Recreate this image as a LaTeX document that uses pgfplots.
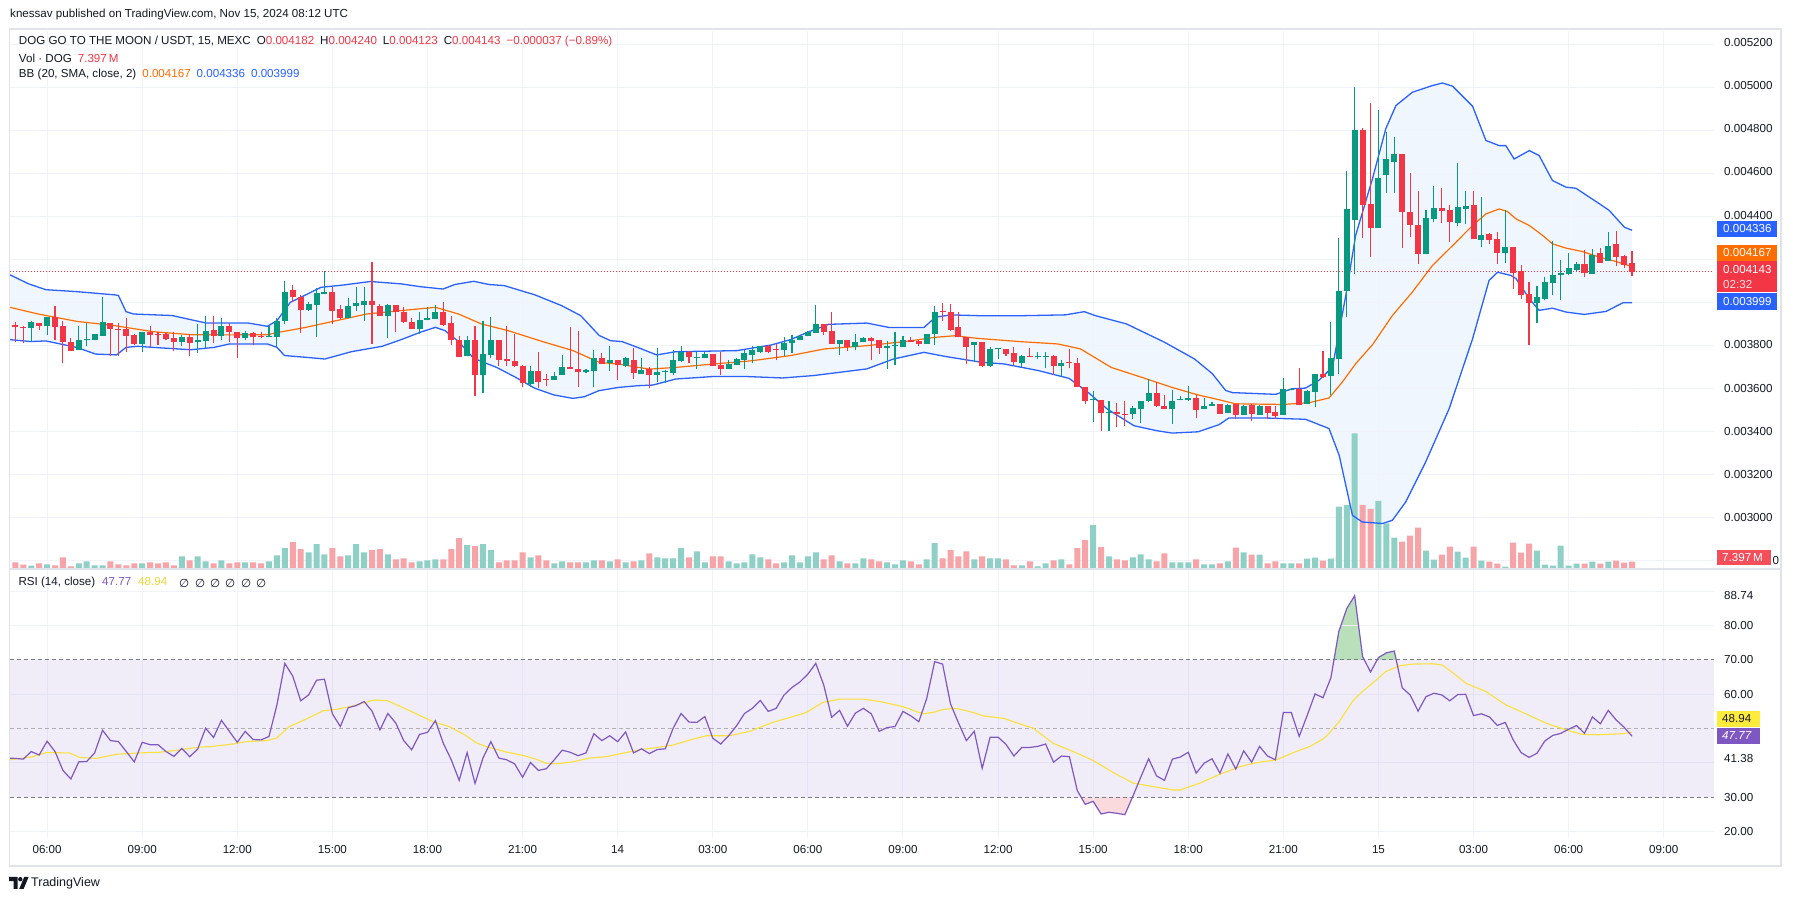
\documentclass[border=0pt]{standalone}
\usepackage{fontspec}
\setmainfont{Liberation Sans}
\newfontfamily\symfont{DejaVu Sans}
\usepackage{pgfplots}
\usepackage{pgfplotstable}
\pgfplotsset{compat=1.18}

\definecolor{cgreen}{HTML}{089981}
\definecolor{cred}{HTML}{F23645}
\definecolor{vgreen}{HTML}{8ED0C6}
\definecolor{vred}{HTML}{F7A4A8}
\definecolor{bbblue}{HTML}{2962FF}
\definecolor{bborange}{HTML}{FF6D00}
\definecolor{bbfill}{HTML}{F0F6FD}
\definecolor{gridc}{HTML}{F0F3FA}
\definecolor{framec}{HTML}{E0E3EB}
\definecolor{txt}{HTML}{131722}
\definecolor{rsipurple}{HTML}{7E57C2}
\definecolor{rsiyellow}{HTML}{F9E13A}
\definecolor{dashc}{HTML}{787B86}
\definecolor{obgreen}{HTML}{B9DFBB}
\definecolor{osred}{HTML}{FADADD}
\definecolor{labyellow}{HTML}{FFEB3B}

\newcommand{\tv}{\fontsize{11.6}{13.5}\selectfont}

% 15 min candles, t in hours from Nov 13 00:00, volume in M
\pgfplotstableread{
t o h l c v
5.00 0.003896 0.003908 0.003815 0.003887 6.7
5.25 0.003885 0.003893 0.003812 0.003881 4.4
5.50 0.003881 0.003916 0.003819 0.003908 3.3
5.75 0.003904 0.003904 0.003873 0.003893 5.7
6.00 0.003891 0.003935 0.003850 0.003932 4.7
6.25 0.003932 0.003986 0.003828 0.003885 3.7
6.50 0.003890 0.003916 0.003719 0.003819 11.7
6.75 0.003819 0.003834 0.003774 0.003777 2.7
7.00 0.003780 0.003890 0.003780 0.003828 5.7
7.25 0.003826 0.003905 0.003797 0.003831 7.7
7.50 0.003826 0.003853 0.003826 0.003853 3.7
7.75 0.003846 0.004025 0.003846 0.003912 3.7
8.00 0.003907 0.003907 0.003754 0.003877 7.7
8.25 0.003879 0.003904 0.003754 0.003873 4.7
8.50 0.003876 0.003930 0.003769 0.003845 3.7
8.75 0.003848 0.003854 0.003803 0.003808 5.7
9.00 0.003808 0.003865 0.003772 0.003862 5.7
9.25 0.003862 0.003890 0.003795 0.003850 6.7
9.50 0.003854 0.003862 0.003803 0.003850 5.7
9.75 0.003853 0.003859 0.003828 0.003831 6.7
10.00 0.003834 0.003862 0.003775 0.003819 3.7
10.25 0.003819 0.003850 0.003797 0.003839 12.7
10.50 0.003842 0.003854 0.003754 0.003812 8.7
10.75 0.003816 0.003899 0.003764 0.003828 12.7
11.00 0.003820 0.003940 0.003788 0.003870 7.7
11.25 0.003873 0.003940 0.003812 0.003843 5.7
11.50 0.003843 0.003927 0.003828 0.003890 8.7
11.75 0.003890 0.003904 0.003819 0.003862 5.7
12.00 0.003865 0.003865 0.003741 0.003834 6.7
12.25 0.003834 0.003870 0.003828 0.003861 6.7
12.50 0.003861 0.003865 0.003803 0.003842 6.7
12.75 0.003847 0.003865 0.003837 0.003842 5.7
13.00 0.003843 0.003890 0.003839 0.003847 7.7
13.25 0.003842 0.003929 0.003792 0.003916 13.7
13.50 0.003916 0.004099 0.003901 0.004051 20.8
13.75 0.004057 0.004082 0.004001 0.004025 26.8
14.00 0.004028 0.004036 0.003859 0.003966 19.8
14.25 0.003966 0.004005 0.003961 0.003994 16.7
14.50 0.003989 0.004067 0.003842 0.004043 24.8
14.75 0.004040 0.004146 0.004040 0.004048 14.7
15.00 0.004051 0.004074 0.003901 0.003961 20.8
15.25 0.003969 0.003989 0.003924 0.003927 12.7
15.50 0.003927 0.004020 0.003927 0.003986 13.7
15.75 0.003984 0.004071 0.003963 0.003997 24.8
16.00 0.003991 0.004071 0.003916 0.004009 16.7
16.25 0.004009 0.004188 0.003808 0.003989 18.8
16.50 0.003986 0.003994 0.003938 0.003938 19.8
16.75 0.003940 0.003994 0.003837 0.003988 14.7
17.00 0.003991 0.003991 0.003862 0.003955 9.7
17.25 0.003955 0.003978 0.003905 0.003909 10.7
17.50 0.003909 0.003927 0.003878 0.003878 6.7
17.75 0.003878 0.003958 0.003854 0.003921 7.7
18.00 0.003919 0.003978 0.003919 0.003927 8.7
18.25 0.003924 0.003991 0.003924 0.003958 9.7
18.50 0.003955 0.004005 0.003893 0.003896 9.7
18.75 0.003904 0.003940 0.003803 0.003828 19.8
19.00 0.003828 0.003847 0.003749 0.003749 30.8
19.25 0.003750 0.003847 0.003750 0.003828 23.8
19.50 0.003828 0.003890 0.003564 0.003664 22.8
19.75 0.003664 0.003916 0.003580 0.003761 24.8
20.00 0.003757 0.003932 0.003741 0.003826 18.8
20.25 0.003826 0.003828 0.003707 0.003733 6.7
20.50 0.003737 0.003893 0.003706 0.003729 8.7
20.75 0.003730 0.003854 0.003699 0.003704 8.7
21.00 0.003707 0.003710 0.003606 0.003626 16.7
21.25 0.003622 0.003707 0.003609 0.003681 11.7
21.50 0.003681 0.003769 0.003602 0.003633 13.7
21.75 0.003646 0.003668 0.003611 0.003642 8.7
22.00 0.003642 0.003679 0.003642 0.003661 5.7
22.25 0.003664 0.003757 0.003664 0.003702 7.7
22.50 0.003702 0.003885 0.003692 0.003692 6.7
22.75 0.003692 0.003870 0.003606 0.003679 6.7
23.00 0.003676 0.003692 0.003671 0.003687 6.7
23.25 0.003684 0.003781 0.003606 0.003744 8.7
23.50 0.003744 0.003766 0.003715 0.003715 8.7
23.75 0.003719 0.003800 0.003684 0.003733 7.7
24.00 0.003733 0.003735 0.003640 0.003710 9.7
24.25 0.003707 0.003746 0.003699 0.003741 6.7
24.50 0.003735 0.003788 0.003645 0.003673 7.7
24.75 0.003668 0.003741 0.003668 0.003687 8.7
25.00 0.003692 0.003699 0.003603 0.003664 15.7
25.25 0.003664 0.003788 0.003633 0.003676 11.7
25.50 0.003680 0.003687 0.003625 0.003684 10.7
25.75 0.003673 0.003780 0.003664 0.003733 10.7
26.00 0.003730 0.003800 0.003726 0.003769 20.8
26.25 0.003769 0.003777 0.003719 0.003749 11.7
26.50 0.003742 0.003769 0.003692 0.003746 17.7
26.75 0.003743 0.003769 0.003741 0.003760 6.7
27.00 0.003760 0.003763 0.003704 0.003704 12.7
27.25 0.003710 0.003769 0.003664 0.003692 12.7
27.50 0.003692 0.003735 0.003692 0.003715 7.7
27.75 0.003710 0.003744 0.003710 0.003738 5.7
28.00 0.003733 0.003781 0.003692 0.003766 6.7
28.25 0.003758 0.003800 0.003718 0.003780 14.7
28.50 0.003769 0.003800 0.003764 0.003797 11.7
28.75 0.003797 0.003803 0.003764 0.003769 9.7
29.00 0.003785 0.003808 0.003733 0.003781 5.7
29.25 0.003780 0.003839 0.003754 0.003811 6.7
29.50 0.003811 0.003851 0.003764 0.003828 13.7
29.75 0.003828 0.003843 0.003828 0.003843 6.7
30.00 0.003843 0.003868 0.003843 0.003865 12.7
30.25 0.003859 0.003989 0.003857 0.003899 16.7
30.50 0.003899 0.003902 0.003850 0.003862 9.7
30.75 0.003867 0.003955 0.003808 0.003808 13.7
31.00 0.003808 0.003828 0.003757 0.003825 7.7
31.25 0.003825 0.003828 0.003777 0.003792 5.7
31.50 0.003792 0.003854 0.003780 0.003816 5.7
31.75 0.003816 0.003839 0.003816 0.003834 10.7
32.00 0.003837 0.003839 0.003733 0.003820 9.7
32.25 0.003825 0.003825 0.003761 0.003791 7.7
32.50 0.003791 0.003823 0.003692 0.003797 6.7
32.75 0.003798 0.003862 0.003712 0.003802 4.7
33.00 0.003794 0.003847 0.003794 0.003828 8.7
33.25 0.003825 0.003839 0.003816 0.003819 7.7
33.50 0.003823 0.003828 0.003800 0.003808 4.7
33.75 0.003808 0.003854 0.003808 0.003853 9.7
34.00 0.003853 0.003983 0.003803 0.003958 25.8
34.25 0.003961 0.003998 0.003916 0.003957 10.7
34.50 0.003955 0.003994 0.003870 0.003874 18.8
34.75 0.003885 0.003955 0.003839 0.003839 12.7
35.00 0.003842 0.003842 0.003715 0.003792 17.7
35.25 0.003803 0.003819 0.003722 0.003819 9.7
35.50 0.003816 0.003816 0.003699 0.003704 12.7
35.75 0.003707 0.003792 0.003699 0.003785 10.7
36.00 0.003784 0.003789 0.003738 0.003788 10.7
36.25 0.003785 0.003785 0.003754 0.003761 9.7
36.50 0.003764 0.003795 0.003710 0.003722 3.7
36.75 0.003718 0.003758 0.003699 0.003750 3.7
37.00 0.003751 0.003789 0.003747 0.003747 7.7
37.25 0.003746 0.003769 0.003738 0.003750 2.7
37.50 0.003750 0.003769 0.003696 0.003754 5.7
37.75 0.003754 0.003758 0.003664 0.003707 8.7
38.00 0.003707 0.003735 0.003656 0.003718 9.7
38.25 0.003723 0.003785 0.003695 0.003719 4.7
38.50 0.003718 0.003741 0.003606 0.003606 20.8
38.75 0.003609 0.003609 0.003529 0.003544 28.8
39.00 0.003548 0.003591 0.003447 0.003552 43.9
39.25 0.003549 0.003549 0.003402 0.003487 21.8
39.50 0.003486 0.003544 0.003402 0.003490 12.7
39.75 0.003490 0.003536 0.003420 0.003482 9.7
40.00 0.003484 0.003541 0.003428 0.003479 8.7
40.25 0.003482 0.003521 0.003459 0.003509 11.7
40.50 0.003505 0.003544 0.003440 0.003541 14.7
40.75 0.003541 0.003645 0.003538 0.003578 9.7
41.00 0.003578 0.003629 0.003515 0.003518 7.7
41.25 0.003521 0.003571 0.003505 0.003505 15.7
41.50 0.003505 0.003595 0.003436 0.003544 6.7
41.75 0.003548 0.003567 0.003546 0.003552 6.7
42.00 0.003547 0.003611 0.003544 0.003558 6.7
42.25 0.003558 0.003571 0.003462 0.003502 9.7
42.50 0.003504 0.003557 0.003504 0.003520 4.7
42.75 0.003520 0.003538 0.003520 0.003529 4.7
43.00 0.003529 0.003529 0.003484 0.003484 5.7
43.25 0.003489 0.003529 0.003489 0.003526 7.7
43.50 0.003529 0.003529 0.003458 0.003480 21.3
43.75 0.003476 0.003523 0.003476 0.003520 16.7
44.00 0.003526 0.003531 0.003452 0.003484 14.3
44.25 0.003480 0.003523 0.003480 0.003520 14.3
44.50 0.003520 0.003520 0.003458 0.003489 5.7
44.75 0.003492 0.003520 0.003458 0.003473 7.7
45.00 0.003480 0.003650 0.003480 0.003597 5.7
45.25 0.003596 0.003603 0.003592 0.003600 5.7
45.50 0.003597 0.003696 0.003523 0.003526 5.7
45.75 0.003531 0.003592 0.003531 0.003589 10.3
46.00 0.003585 0.003670 0.003515 0.003667 11.3
46.25 0.003667 0.003775 0.003651 0.003654 8.3
46.50 0.003657 0.003909 0.003569 0.003742 10.3
46.75 0.003739 0.004299 0.003670 0.004056 62.3
47.00 0.004055 0.004610 0.003933 0.004434 64.0
47.25 0.004384 0.005000 0.004134 0.004800 135.7
47.50 0.004800 0.004810 0.004299 0.004454 64.0
47.75 0.004457 0.004926 0.004211 0.004347 60.0
48.00 0.004347 0.004896 0.004347 0.004578 68.0
48.25 0.004593 0.004791 0.004508 0.004666 45.7
48.50 0.004655 0.004768 0.004508 0.004689 31.3
48.75 0.004689 0.004689 0.004253 0.004420 27.3
49.00 0.004420 0.004601 0.004304 0.004361 33.3
49.25 0.004360 0.004517 0.004180 0.004225 41.3
49.50 0.004225 0.004428 0.004225 0.004395 18.3
49.75 0.004389 0.004541 0.004373 0.004438 9.3
50.00 0.004438 0.004531 0.004369 0.004426 14.3
50.25 0.004429 0.004451 0.004281 0.004373 22.3
50.50 0.004370 0.004647 0.004358 0.004443 17.3
50.75 0.004435 0.004517 0.004366 0.004448 11.3
51.00 0.004452 0.004517 0.004295 0.004295 22.3
51.25 0.004292 0.004490 0.004257 0.004315 8.3
51.50 0.004318 0.004322 0.004273 0.004292 7.3
51.75 0.004295 0.004330 0.004180 0.004231 5.3
52.00 0.004231 0.004431 0.004183 0.004257 2.3
52.25 0.004257 0.004257 0.004064 0.004138 26.3
52.50 0.004145 0.004176 0.004015 0.004036 16.3
52.75 0.004039 0.004098 0.003801 0.003999 25.3
53.00 0.003999 0.004076 0.003906 0.004025 18.3
53.25 0.004018 0.004118 0.004010 0.004095 4.3
53.50 0.004092 0.004284 0.004033 0.004129 3.3
53.75 0.004126 0.004200 0.004013 0.004138 23.3
54.00 0.004132 0.004231 0.004126 0.004160 3.3
54.25 0.004152 0.004188 0.004149 0.004180 5.3
54.50 0.004180 0.004242 0.004118 0.004137 5.3
54.75 0.004134 0.004247 0.004134 0.004222 7.3
55.00 0.004230 0.004253 0.004185 0.004185 5.3
55.25 0.004193 0.004327 0.004193 0.004262 7.3
55.50 0.004271 0.004332 0.004168 0.004211 8.3
55.75 0.004217 0.004222 0.004160 0.004176 6.3
56.00 0.004182 0.004240 0.004123 0.004143 7.397
}\candles

\pgfplotstableread{
t p
4.83 0.004129
5.42 0.004087
5.96 0.004060
6.93 0.004051
8.13 0.004036
8.25 0.004033
8.49 0.003958
8.73 0.003947
9.94 0.003940
11.02 0.003905
12.35 0.003905
12.95 0.003890
13.25 0.003916
13.67 0.004001
14.16 0.004036
14.64 0.004071
15.36 0.004082
16.20 0.004098
17.17 0.004087
17.77 0.004074
18.49 0.004063
18.86 0.004084
19.46 0.004099
19.94 0.004084
20.42 0.004079
21.39 0.004036
22.23 0.003986
22.83 0.003940
23.42 0.003847
23.78 0.003823
24.14 0.003819
24.75 0.003785
25.23 0.003757
25.83 0.003772
27.04 0.003775
27.76 0.003777
28.84 0.003803
29.45 0.003828
29.99 0.003862
30.65 0.003899
31.86 0.003905
32.58 0.003884
33.66 0.003884
34.02 0.003932
34.50 0.003943
35.47 0.003939
36.67 0.003939
38.12 0.003943
38.72 0.003958
39.08 0.003939
40.05 0.003901
41.25 0.003816
42.20 0.003738
42.76 0.003670
43.18 0.003592
43.39 0.003582
44.76 0.003574
45.28 0.003600
45.70 0.003603
46.12 0.003639
46.55 0.003701
46.97 0.004033
47.28 0.004312
47.81 0.004575
48.23 0.004807
48.55 0.004915
49.07 0.004977
49.70 0.005008
50.02 0.005020
50.34 0.005005
50.97 0.004912
51.39 0.004753
51.81 0.004729
52.02 0.004729
52.28 0.004667
52.76 0.004706
53.07 0.004683
53.49 0.004567
53.92 0.004536
54.23 0.004531
54.97 0.004459
55.28 0.004428
55.76 0.004350
56.00 0.004336
}\bbup

\pgfplotstableread{
t p
4.83 0.003978
5.72 0.003947
6.93 0.003913
8.13 0.003893
9.34 0.003865
10.54 0.003851
11.75 0.003850
12.95 0.003851
13.31 0.003862
14.16 0.003885
15.12 0.003916
16.08 0.003947
17.17 0.003963
18.25 0.003978
18.98 0.003947
19.70 0.003901
20.54 0.003870
21.63 0.003819
22.59 0.003777
23.41 0.003723
24.14 0.003712
24.99 0.003691
25.83 0.003699
27.04 0.003715
28.24 0.003730
29.45 0.003754
30.53 0.003785
31.86 0.003800
33.06 0.003819
34.02 0.003839
34.63 0.003846
35.35 0.003834
36.67 0.003819
37.88 0.003808
38.60 0.003785
39.57 0.003699
40.53 0.003653
41.49 0.003606
42.31 0.003571
42.97 0.003549
43.49 0.003530
44.97 0.003527
45.81 0.003535
46.44 0.003557
46.86 0.003631
47.28 0.003716
47.81 0.003804
48.44 0.003940
49.07 0.004049
49.70 0.004172
50.34 0.004265
50.97 0.004358
51.39 0.004412
51.81 0.004435
52.07 0.004423
52.34 0.004389
52.76 0.004358
53.18 0.004312
53.49 0.004273
53.92 0.004253
54.44 0.004237
54.97 0.004211
55.49 0.004191
56.00 0.004167
}\bbmid

\pgfplotstableread{
t p
4.83 0.003828
5.48 0.003819
5.96 0.003822
6.93 0.003792
7.53 0.003761
8.19 0.003757
8.49 0.003792
8.86 0.003797
9.34 0.003792
10.54 0.003781
11.27 0.003792
11.75 0.003808
12.95 0.003808
13.25 0.003792
13.49 0.003754
14.16 0.003746
14.76 0.003738
15.60 0.003772
16.57 0.003797
17.17 0.003828
17.77 0.003862
18.25 0.003885
18.55 0.003870
18.98 0.003819
19.46 0.003741
20.18 0.003699
20.78 0.003653
21.39 0.003602
21.99 0.003571
22.59 0.003555
22.95 0.003563
23.41 0.003591
24.02 0.003606
24.63 0.003614
25.11 0.003617
25.83 0.003645
27.04 0.003657
28.00 0.003657
29.20 0.003650
30.17 0.003661
31.86 0.003692
32.70 0.003738
33.66 0.003769
34.33 0.003750
35.47 0.003723
36.19 0.003715
37.28 0.003684
38.24 0.003648
38.84 0.003583
39.45 0.003505
40.29 0.003428
41.01 0.003405
41.49 0.003394
42.31 0.003400
42.97 0.003433
43.28 0.003464
44.44 0.003464
45.70 0.003458
46.44 0.003415
46.76 0.003291
47.18 0.003012
47.49 0.002981
48.13 0.002974
48.44 0.002989
48.86 0.003074
49.49 0.003260
50.23 0.003507
50.97 0.003832
51.49 0.004103
51.76 0.004141
52.18 0.004126
52.34 0.004111
52.76 0.004018
53.07 0.003964
53.49 0.003974
53.92 0.003956
54.49 0.003945
55.18 0.003959
55.71 0.003999
56.00 0.003999
}\bblo

\pgfplotstableread{
t r
4.75 41.4
5.00 41.3
5.25 41.1
5.50 43.3
5.75 42.3
6.00 46.3
6.25 43.3
6.50 37.8
6.75 35.3
7.00 40.3
7.25 40.4
7.50 42.9
7.75 49.5
8.00 46.5
8.25 46.2
8.50 43.3
8.75 40.3
9.00 46.0
9.25 45.3
9.50 45.3
9.75 43.3
10.00 41.9
10.25 44.2
10.50 41.8
10.75 44.0
11.00 50.1
11.25 47.4
11.50 52.4
11.75 49.2
12.00 46.0
12.25 49.2
12.50 46.8
12.75 46.7
13.00 47.7
13.25 56.9
13.50 69.0
13.75 65.3
14.00 58.1
14.25 59.8
14.50 64.1
14.75 64.4
15.00 54.3
15.25 50.6
15.50 56.1
15.75 56.7
16.00 57.9
16.25 55.1
16.50 49.6
16.75 54.4
17.00 51.6
17.25 46.5
17.50 43.8
17.75 48.3
18.00 48.9
18.25 52.3
18.50 45.7
18.75 40.9
19.00 34.9
19.25 43.0
19.50 34.0
19.75 41.4
20.00 46.2
20.25 41.4
20.50 40.9
20.75 39.7
21.00 35.8
21.25 40.1
21.50 37.8
21.75 38.3
22.00 40.9
22.25 43.7
22.50 43.1
22.75 42.1
23.00 42.9
23.25 48.5
23.50 46.5
23.75 47.9
24.00 46.2
24.25 49.0
24.50 42.9
24.75 44.1
25.00 42.7
25.25 43.9
25.50 44.1
25.75 50.1
26.00 54.4
26.25 51.9
26.50 51.8
26.75 53.5
27.00 47.2
27.25 45.5
27.50 47.9
27.75 50.8
28.00 54.4
28.25 55.9
28.50 58.2
28.75 55.0
29.00 55.9
29.25 59.8
29.50 62.0
29.75 63.6
30.00 65.9
30.25 69.0
30.50 62.7
30.75 53.3
31.00 55.3
31.25 50.7
31.50 54.5
31.75 55.9
32.00 54.3
32.25 49.2
32.50 50.3
32.75 50.6
33.00 55.0
33.25 53.7
33.50 52.0
33.75 58.8
34.00 69.5
34.25 68.8
34.50 57.2
34.75 51.7
35.00 46.5
35.25 49.2
35.50 38.4
35.75 47.5
36.00 47.5
36.25 45.4
36.50 42.0
36.75 44.5
37.00 44.5
37.25 44.8
37.50 45.5
37.75 40.2
38.00 42.0
38.25 41.8
38.50 31.9
38.75 27.9
39.00 28.8
39.25 25.1
39.50 25.6
39.75 25.3
40.00 24.9
40.25 30.2
40.50 35.8
40.75 41.2
41.00 36.2
41.25 34.9
41.50 41.1
41.75 41.7
42.00 43.1
42.25 37.0
42.50 39.9
42.75 41.2
43.00 37.0
43.25 42.6
43.50 38.2
43.75 43.5
44.00 40.2
44.25 44.8
44.50 42.0
44.75 40.9
45.00 54.7
45.25 54.7
45.50 47.7
45.75 53.8
46.00 60.1
46.25 59.0
46.50 64.8
46.75 78.3
47.00 85.0
47.25 88.74
47.50 71.0
47.75 66.5
48.00 70.7
48.25 72.1
48.50 72.6
48.75 61.9
49.00 59.8
49.25 55.1
49.50 59.3
49.75 60.3
50.00 59.8
50.25 58.1
50.50 59.9
50.75 60.0
51.00 53.8
51.25 54.3
51.50 53.4
51.75 50.9
52.00 51.8
52.25 46.7
52.50 43.0
52.75 41.6
53.00 42.8
53.25 46.4
53.50 48.0
53.75 48.6
54.00 49.8
54.25 50.9
54.50 48.6
54.75 53.4
55.00 51.4
55.25 55.3
55.50 52.5
55.75 50.4
56.00 47.77
}\rsi

\pgfplotstableread{
t m
4.83 40.9
5.55 41.8
5.97 43.0
6.71 42.9
7.02 41.6
7.55 41.3
8.18 42.5
8.92 42.9
9.55 43.1
10.18 43.8
10.81 44.6
11.23 44.8
11.86 45.5
12.28 46.2
12.92 46.5
13.23 47.2
13.65 50.6
14.18 52.8
14.71 55.2
15.13 55.6
15.55 56.4
15.97 57.4
16.28 58.3
16.71 58.2
17.23 56.1
17.76 53.8
18.18 52.0
18.68 50.6
19.21 48.0
19.53 45.9
19.84 44.8
20.47 43.2
21.00 42.2
21.42 41.1
21.74 39.9
22.05 39.7
22.58 40.3
23.11 41.4
23.63 41.8
24.05 42.6
24.68 43.8
25.32 44.6
25.74 45.2
26.37 46.9
26.79 47.9
27.53 47.9
28.16 49.2
28.89 51.8
29.53 53.5
29.95 54.7
30.47 57.6
31.00 58.6
31.74 58.6
32.26 57.9
33.00 56.4
33.63 54.3
34.00 54.8
34.26 55.6
34.68 55.9
35.21 54.7
35.53 53.7
36.16 53.0
36.68 51.4
37.11 50.1
37.74 45.7
38.37 43.3
39.00 40.7
39.63 37.2
40.26 34.1
40.89 33.1
41.53 32.1
41.74 32.1
42.37 34.1
43.00 36.7
43.63 38.9
44.16 40.1
44.79 40.9
45.32 43.0
45.84 44.8
46.26 47.0
46.44 48.6
46.76 52.0
47.18 57.9
47.49 60.8
47.81 63.2
48.23 66.6
48.65 68.3
49.07 68.8
49.71 68.9
50.02 68.5
50.34 66.3
50.76 63.2
51.39 60.8
52.02 56.9
52.65 54.3
53.28 51.6
53.92 49.6
54.44 48.3
54.97 48.2
55.39 48.4
55.71 48.5
56.00 48.94
}\rsima

\pgfplotsset{
  tvbase/.style={scale only axis, anchor=south west, width=1704.4pt,
    xmin=4.817, xmax=58.585, axis line style={draw=none},
    major tick length=0pt, xtick={6,9,...,57}, xticklabels={}, yticklabels={},
    scaled y ticks=false},
  pricepanel/.style={tvbase, at={(9.6pt,332pt)}, height=538pt,
    ymin=0.0027628, ymax=0.0052615},
  candle/.style 2 args={only marks, mark=none, mark size=0pt,
    mark options={draw=none, fill=none},
    error bars/.cd, y dir=plus, y explicit, error mark=none,
    error bar style={draw=#1, line width=#2}},
}

\begin{document}
\begin{tikzpicture}[x=1pt,y=1pt]
\useasboundingbox (0,0) rectangle (1794,901);
\fill[white] (0,0) rectangle (1794,901);

% Bollinger band fill: below the upper band, then white below the lower band
\begin{axis}[pricepanel, hide axis]
\addplot[fill=bbfill, draw=none] table[x=t, y=p] {\bbup} \closedcycle;
\addplot[fill=white, draw=none] table[x=t, y=p] {\bblo} \closedcycle;
\end{axis}

% price grid
\begin{axis}[pricepanel,
  ytick={0.0028,0.003,0.0032,0.0034,0.0036,0.0038,0.004,0.0042,0.0044,0.0046,0.0048,0.005,0.0052},
  grid=major, major grid style={draw=gridc, line width=1pt}]
\end{axis}

% volume
\begin{axis}[tvbase, at={(9.6pt,332pt)}, height=538pt, hide axis, ymin=0, ymax=538]
\addplot[ybar, bar width=6pt, bar shift=0pt, fill=vgreen, draw=none,
  restrict expr to domain={\thisrow{c}-\thisrow{o}}{0:1}] table[x=t, y=v] {\candles};
\addplot[ybar, bar width=6pt, bar shift=0pt, fill=vred, draw=none,
  restrict expr to domain={\thisrow{c}-\thisrow{o}}{-1:-0.0000001}] table[x=t, y=v] {\candles};
\end{axis}

% bands and candles
\begin{axis}[pricepanel, hide axis]
\addplot[bbblue, line width=1.3pt] table[x=t, y=p] {\bbup};
\addplot[bbblue, line width=1.3pt] table[x=t, y=p] {\bblo};
\addplot[bborange, line width=1.2pt] table[x=t, y=p] {\bbmid};
\addplot[cred, line width=1pt, dash pattern=on 1.2pt off 1.8pt] coordinates {(4.817,0.004143) (58.585,0.004143)};
% wicks
\addplot[restrict expr to domain={\thisrow{c}-\thisrow{o}}{0:1}, candle={cgreen}{1.1pt}]
  table[x=t, y=l, y error plus expr=\thisrow{h}-\thisrow{l}] {\candles};
\addplot[restrict expr to domain={\thisrow{c}-\thisrow{o}}{-1:-0.0000001}, candle={cred}{1.1pt}]
  table[x=t, y=l, y error plus expr=\thisrow{h}-\thisrow{l}] {\candles};
% bodies
\addplot[restrict expr to domain={\thisrow{c}-\thisrow{o}}{0:1}, candle={cgreen}{6pt}]
  table[x=t, y=o, y error plus expr=\thisrow{c}-\thisrow{o}] {\candles};
\addplot[restrict expr to domain={\thisrow{c}-\thisrow{o}}{-1:-0.0000001}, candle={cred}{6pt}]
  table[x=t, y=c, y error plus expr=\thisrow{o}-\thisrow{c}] {\candles};
\end{axis}

% RSI oversold fill (below 30)
\begin{axis}[tvbase, hide axis, at={(9.6pt,63pt)}, height=40.8pt, ymin=18.1, ymax=30]
\addplot[fill=osred, draw=none] coordinates {(38,18.1) (41,18.1) (41,30) (38,30)} -- cycle;
\addplot[fill=white, draw=none] table[x=t, y=r] {\rsi} \closedcycle;
\end{axis}
% RSI overbought fill (above 70)
\begin{axis}[tvbase, hide axis, at={(9.6pt,241pt)}, height=91pt, ymin=70, ymax=96.53]
\addplot[fill=obgreen, draw=none] table[x=t, y=r] {\rsi} \closedcycle;
\end{axis}

% RSI panel
\begin{axis}[tvbase, at={(9.6pt,63pt)}, height=269pt, ymin=18.1, ymax=96.53,
  ytick={20,40,60,80,90}, grid=major, major grid style={draw=gridc, line width=1pt},
  xticklabels={06:00,09:00,12:00,15:00,18:00,21:00,14,03:00,06:00,09:00,12:00,15:00,18:00,21:00,15,03:00,06:00,09:00},
  xticklabel style={font=\tv, text=txt, yshift=-4pt}]
\addplot[fill=rsipurple, fill opacity=0.1, draw=none] coordinates {(4.817,30) (58.585,30) (58.585,70) (4.817,70)} -- cycle;
\addplot[dashc, line width=1pt, dash pattern=on 4pt off 3pt] coordinates {(4.817,70) (58.585,70)};
\addplot[dashc!60, line width=1pt, dash pattern=on 4pt off 3pt] coordinates {(4.817,50) (58.585,50)};
\addplot[dashc, line width=1pt, dash pattern=on 4pt off 3pt] coordinates {(4.817,30) (58.585,30)};
\addplot[rsiyellow, line width=1.1pt] table[x=t, y=m] {\rsima};
\addplot[rsipurple, line width=1.2pt] table[x=t, y=r] {\rsi};
\end{axis}

% frame and separators
\draw[framec, line width=1.5pt] (9.6,35) rectangle (1781,872);
\draw[framec, line width=2.5pt] (9.6,332) -- (1781,332);

% price scale (0.004200 and 0.004000 sit under the coloured value tags)
\foreach \lab/\i in {0.005200/0,0.005000/1,0.004800/2,0.004600/3,0.004400/4,0.003800/7,0.003600/8,0.003400/9,0.003200/10,0.003000/11}
  \node[anchor=west, font=\tv, text=txt, inner sep=0pt] at (1724,{858.7-43.22*\i}) {\lab};
\fill[bbblue] (1717,664) rectangle (1777,680);
\node[anchor=west, font=\tv, text=white, inner sep=0pt] at (1723,672) {0.004336};
\fill[bborange] (1717,640) rectangle (1777,656);
\node[anchor=west, font=\tv, text=white, inner sep=0pt] at (1723,648) {0.004167};
\fill[cred] (1717,609) rectangle (1777,640);
\node[anchor=west, font=\tv, text=white, inner sep=0pt] at (1723,631) {0.004143};
\node[anchor=west, font=\tv, text=white!85!cred, inner sep=0pt] at (1723,616.5) {02:32};
\fill[bbblue] (1717,591) rectangle (1777,608);
\node[anchor=west, font=\tv, text=white, inner sep=0pt] at (1723,599.5) {0.003999};
\fill[cred!88!white] (1717,336) rectangle (1771,351);
\node[anchor=west, font=\tv, text=white, inner sep=0pt] at (1722,343.5) {7.397\,M};
\node[anchor=west, font=\tv, text=txt, inner sep=0pt] at (1772.5,340.1) {0};

% RSI scale
\foreach \v/\y in {88.74/305.3, 80.00/275.3, 70.00/241, 60.00/206.7, 41.38/142.8, 30.00/103.8, 20.00/69.5}
  \node[anchor=west, font=\tv, text=txt, inner sep=0pt] at (1724,\y) {\v};
\fill[labyellow] (1717,174) rectangle (1760,190);
\node[anchor=west, font=\tv, text=txt, inner sep=0pt] at (1722,182) {48.94};
\fill[rsipurple] (1717,157) rectangle (1760,173);
\node[anchor=west, font=\tv\itshape, text=white, inner sep=0pt] at (1722,165) {47.77};

% legends
\node[anchor=west, font=\tv, text=txt, inner sep=0pt] at (10,886) {knessav published on TradingView.com, Nov 15, 2024 08:12 UTC};
\node[anchor=west, font=\tv, text=txt, inner sep=0pt] at (18.8,859) {DOG GO TO THE MOON / USDT, 15, MEXC\hspace{6pt}O{\color{cred}0.004182}\hspace{6pt}H{\color{cred}0.004240}\hspace{6pt}L{\color{cred}0.004123}\hspace{6pt}C{\color{cred}0.004143}\hspace{6pt}{\color{cred}−0.000037 (−0.89\%)}};
\node[anchor=west, font=\tv, text=txt, inner sep=0pt] at (18.8,842.5) {Vol · DOG\hspace{6pt}{\color{cred}7.397\,M}};
\node[anchor=west, font=\tv, text=txt, inner sep=0pt] at (18.8,826) {BB (20, SMA, close, 2)\hspace{6pt}{\color{bborange}0.004167}\hspace{6pt}{\color{bbblue}0.004336}\hspace{6pt}{\color{bbblue}0.003999}};
\node[anchor=west, font=\tv, text=txt, inner sep=0pt] at (18.3,318) {RSI (14, close)\hspace{7pt}{\color{rsipurple}47.77}\hspace{7pt}{\color{labyellow!92!black}48.94}};
\foreach \x in {179,195,210,225,241,256}
  \node[anchor=west, font=\symfont\fontsize{11.6}{13}\selectfont, text=txt, inner sep=0pt] at (\x,318) {∅};

% TradingView logo
\fill[txt] (9,24) -- (17.5,24) -- (17.5,12) -- (13.5,12) -- (13.5,19.8) -- (9,19.8) -- cycle;
\fill[txt] (20.3,21.8) circle (2.2);
\fill[txt] (24.2,24) -- (28.6,24) -- (23.6,12) -- (19.2,12) -- cycle;
\node[anchor=west, font=\fontsize{12.5}{14}\selectfont, text=txt, inner sep=0pt] at (31,18) {TradingView};
\end{tikzpicture}
\end{document}
